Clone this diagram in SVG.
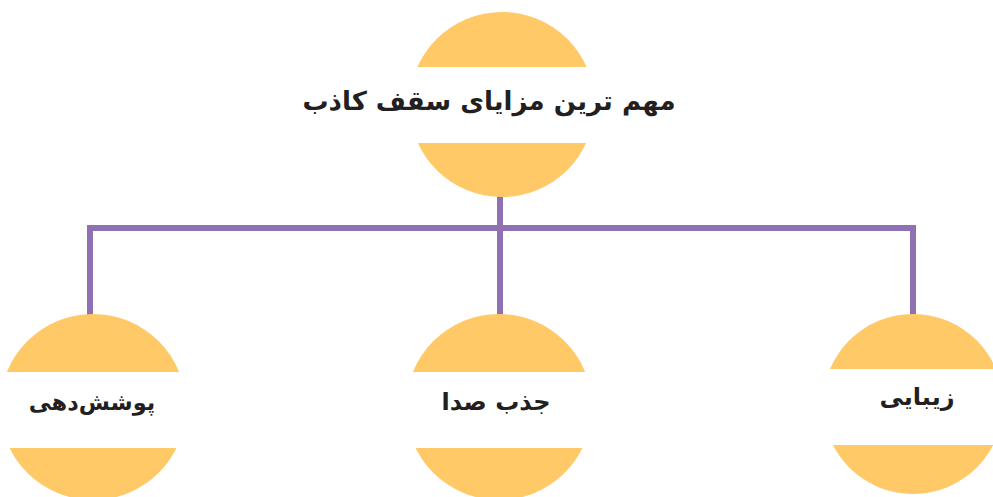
<svg xmlns="http://www.w3.org/2000/svg" width="993" height="497" viewBox="0 0 993 497">
<style>
.c{fill:#fec966}
.band{fill:#ffffff}
.t{font-family:"DejaVu Sans",sans-serif;font-weight:bold;fill:#231f20;text-anchor:middle;direction:rtl}
.ln{stroke:#8f70b2;stroke-width:6;fill:none}
</style>
<rect width="993" height="497" fill="#ffffff"/>
<g id="connectors">
<path class="ln" d="M500 196V228M90 228H913M90 225V316M500 225V316M913 225V316"/>
</g>
<g id="node-top">
<circle class="c" cx="502" cy="104.5" r="92.5"/>
<rect class="band" x="400" y="67" width="210" height="76"/>
<text class="t" x="489" y="110" font-size="26">مهم ترین مزایای سقف کاذب</text>
</g>
<g id="node-left">
<circle class="c" cx="93" cy="407" r="93"/>
<rect class="band" x="0" y="372" width="200" height="76"/>
<text class="t" x="92" y="410" font-size="22.5">پوشش‌دهی</text>
</g>
<g id="node-middle">
<circle class="c" cx="499" cy="407" r="93"/>
<rect class="band" x="400" y="372" width="200" height="76"/>
<text class="t" x="496" y="410" font-size="24">جذب صدا</text>
</g>
<g id="node-right">
<circle class="c" cx="913" cy="404" r="90"/>
<rect class="band" x="815" y="369" width="178" height="76"/>
<text class="t" x="917" y="405" font-size="24">زیبایی</text>
</g>
</svg>
